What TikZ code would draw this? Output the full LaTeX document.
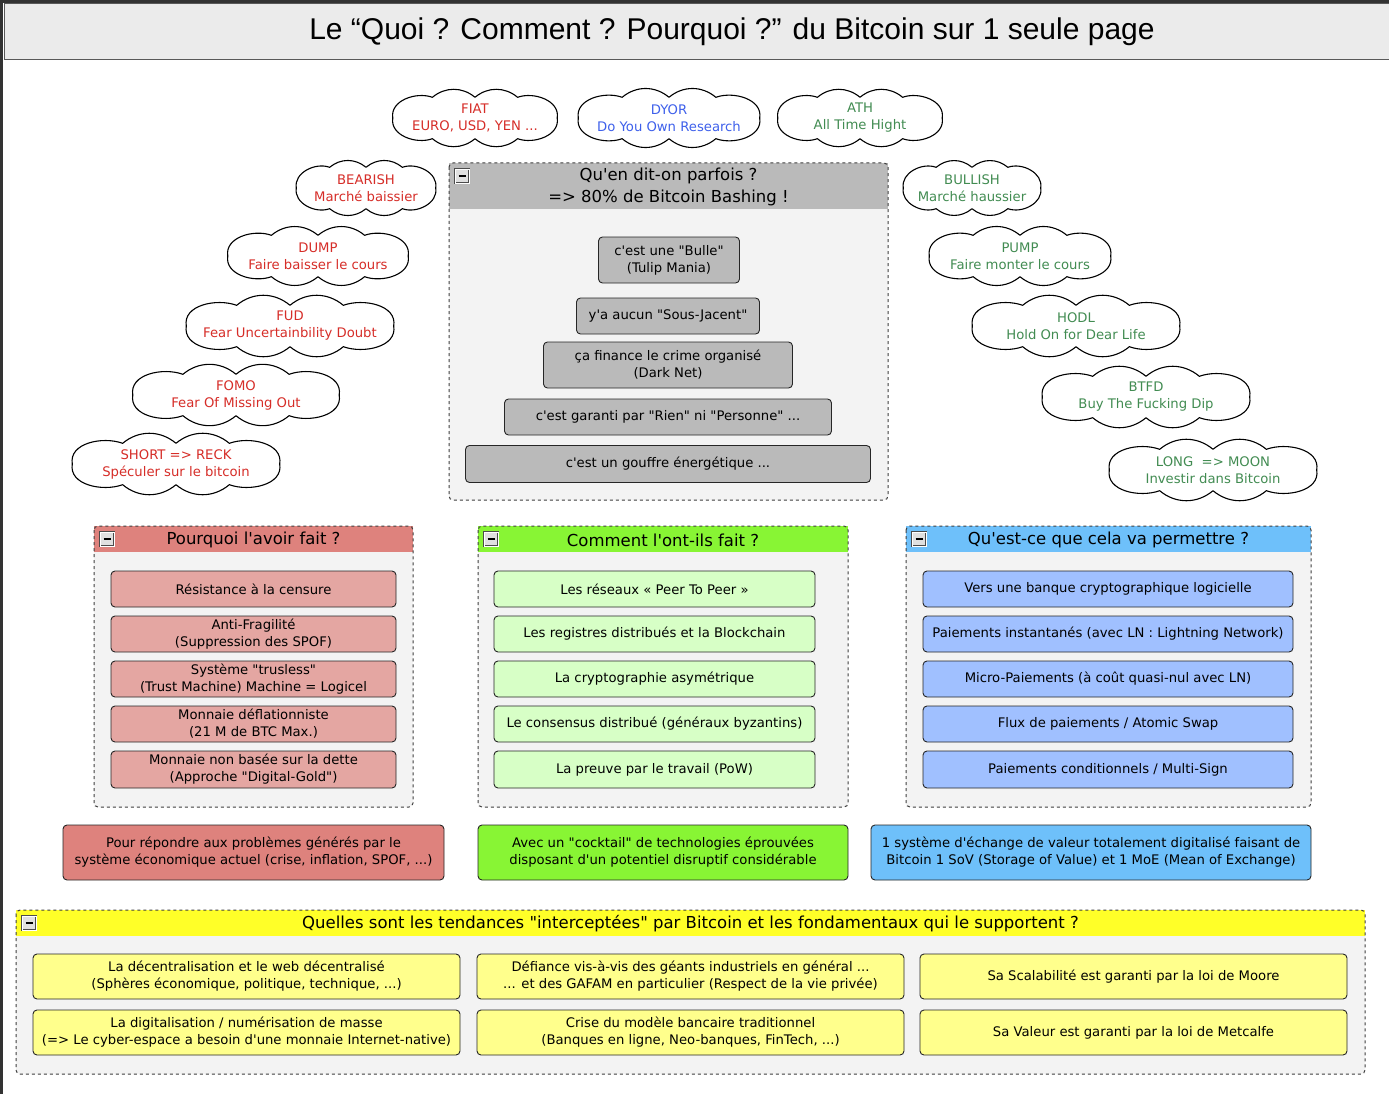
\documentclass[tikz,border=0pt]{standalone}
\usepackage{fontspec}
\setmainfont{DejaVu Sans}[Ligatures=TeXOff]
\newfontfamily\titlefont{Liberation Sans}
\usetikzlibrary{calc}
\definecolor{txtred}{RGB}{214,45,40}
\definecolor{txtblue}{RGB}{62,96,235}
\definecolor{txtgreen}{RGB}{66,140,82}
\definecolor{hdgray}{RGB}{186,186,186}
\definecolor{bodygray}{RGB}{243,243,243}
\definecolor{hdred}{RGB}{222,130,125}
\definecolor{itred}{RGB}{228,166,162}
\definecolor{hdgreen}{RGB}{136,245,52}
\definecolor{itgreen}{RGB}{215,255,198}
\definecolor{hdblue}{RGB}{110,192,250}
\definecolor{itblue}{RGB}{160,192,255}
\definecolor{hdyellow}{RGB}{255,255,40}
\definecolor{ityellow}{RGB}{255,255,140}
\tikzset{
  txt/.style={font=\fontsize{13.2}{17}\selectfont, align=center},
  bubble/.style={txt, inner sep=0pt, minimum height=53},
  cloudline/.style={draw=black, line width=1.1pt, line join=round},
  item/.style={txt, draw=black!85, rounded corners=4pt, line width=0.9pt, inner sep=0pt},
  grpedge/.style={draw=black!75, dashed, line width=1pt, rounded corners=4pt},
  grphead/.style={font=\fontsize{16.5}{22}\selectfont, align=center, inner sep=0pt},
  minus/.style={draw=black!70, fill=black!12, minimum size=14pt, inner sep=0pt,
    double=white, double distance=0.6pt}
}
% nuage autour d'un noeud
\newcommand{\nuage}[1]{%
  \draw[cloudline] ($(#1.west)+(3pt,0)$)
    to[out=100,in=160] ($(#1.north west)!.25!(#1.north east)+(0,-6pt)$)
    to[out=40,in=140] ($(#1.north west)!.5!(#1.north east)+(0,-6pt)$)
    to[out=40,in=140] ($(#1.north west)!.75!(#1.north east)+(0,-6pt)$)
    to[out=20,in=80] ($(#1.east)+(-3pt,0)$)
    to[out=-80,in=-20] ($(#1.south west)!.75!(#1.south east)+(0,6pt)$)
    to[out=-140,in=-40] ($(#1.south west)!.5!(#1.south east)+(0,6pt)$)
    to[out=-140,in=-40] ($(#1.south west)!.25!(#1.south east)+(0,6pt)$)
    to[out=-160,in=-100] ($(#1.west)+(3pt,0)$) -- cycle;
}
% groupe : nom, x1, y1, x2, y2, hauteur entete, couleur, titre
\newcommand{\groupe}[8]{%
  \coordinate (#1nw) at (#2,#3);
  \coordinate (#1se) at (#4,#5);
  \fill[bodygray, rounded corners=4pt] (#1nw) rectangle (#1se);
  \fill[#7] (#2,#3) rectangle (#4,#3+#6);
  \node[grphead] (#1head) at ({(#2+#4)/2},{#3+#6/2+1}) {#8};
  \node[minus] (#1min) at (#2+13,#3+13) {\rule{7pt}{2pt}};
  \draw[grpedge] (#1nw) rectangle (#1se);
}

\begin{document}
\begin{tikzpicture}[x=1pt,y=-1pt]
  \useasboundingbox (0,0) rectangle (1389,1094);
  \fill[white] (0,0) rectangle (1389,1094);
  % cadre et titre
  \fill[black!80] (0,0) rectangle (3,1094);
  \fill[black!80] (0,0) rectangle (1389,3);
  \draw[black!65, fill=black!8, line width=1pt] (4,3.5) rectangle (1392,60);
  \node[font=\titlefont\fontsize{30}{32}\selectfont] (titre) at (732,32)
    {Le “Quoi ? Comment ? Pourquoi ?” du Bitcoin sur 1 seule page};

  % nuages
  \node[bubble, text=txtred, minimum width=170] (fiat) at (475,118) {FIAT\\EURO, USD, YEN ...};
  \node[bubble, text=txtblue, minimum width=187] (dyor) at (669,118) {DYOR\\Do You Own Research};
  \node[bubble, text=txtgreen, minimum width=170] (ath) at (860,118) {ATH\\All Time Hight};
  \node[bubble, text=txtred, minimum width=145] (bearish) at (366,188) {BEARISH\\Marché baissier};
  \node[bubble, text=txtred, minimum width=186] (dump) at (318,256) {DUMP\\Faire baisser le cours};
  \node[bubble, text=txtred, minimum width=213] (fud) at (290,326) {FUD\\Fear Uncertainbility Doubt};
  \node[bubble, text=txtred, minimum width=212] (fomo) at (236,395) {FOMO\\Fear Of Missing Out};
  \node[bubble, text=txtred, minimum width=213] (short) at (176,464) {SHORT => RECK\\Spéculer sur le bitcoin};
  \node[bubble, text=txtgreen, minimum width=143] (bullish) at (972,188) {BULLISH\\Marché haussier};
  \node[bubble, text=txtgreen, minimum width=187] (pump) at (1020,256) {PUMP\\Faire monter le cours};
  \node[bubble, text=txtgreen, minimum width=213] (hodl) at (1076,326) {HODL\\Hold On for Dear Life};
  \node[bubble, text=txtgreen, minimum width=213] (btfd) at (1146,397) {BTFD\\Buy The Fucking Dip};
  \node[bubble, text=txtgreen, minimum width=213] (long) at (1213,470) {LONG\ \ => MOON\\Investir dans Bitcoin};
  \foreach \n in {fiat,dyor,ath,bearish,dump,fud,fomo,short,bullish,pump,hodl,btfd,long}
    {\nuage{\n}}

  % bashing
  \groupe{bash}{449}{163}{888}{500}{46}{hdgray}{Qu'en dit-on parfois ?\\=> 80\% de Bitcoin Bashing !}
  \node[item, fill=hdgray, minimum width=141, minimum height=46] (bulle) at (669,260) {c'est une "Bulle"\\(Tulip Mania)};
  \node[item, fill=hdgray, minimum width=183, minimum height=36] (sousjacent) at (668,316) {y'a aucun "Sous-Jacent"};
  \node[item, fill=hdgray, minimum width=249, minimum height=46] (crime) at (668,365) {ça finance le crime organisé\\(Dark Net)};
  \node[item, fill=hdgray, minimum width=327, minimum height=36] (garanti) at (668,417) {c'est garanti par "Rien" ni "Personne" ...};
  \node[item, fill=hdgray, minimum width=405, minimum height=37] (gouffre) at (668,464) {c'est un gouffre énergétique ...};

  % pourquoi
  \groupe{pourquoi}{94}{526}{413}{807}{26}{hdred}{Pourquoi l'avoir fait ?}
  \node[item, fill=itred, minimum width=285, minimum height=36] (censure) at (253.5,589) {Résistance à la censure};
  \node[item, fill=itred, minimum width=285, minimum height=36] (fragile) at (253.5,634) {Anti-Fragilité\\(Suppression des SPOF)};
  \node[item, fill=itred, minimum width=285, minimum height=36] (trustless) at (253.5,679) {Système "trusless"\\(Trust Machine) Machine = Logicel};
  \node[item, fill=itred, minimum width=285, minimum height=36] (deflation) at (253.5,724) {Monnaie déflationniste\\(21 M de BTC Max.)};
  \node[item, fill=itred, minimum width=285, minimum height=37] (dette) at (253.5,769.5) {Monnaie non basée sur la dette\\(Approche "Digital-Gold")};

  % comment
  \groupe{comment}{478}{526}{848}{807}{26}{hdgreen}{Comment l'ont-ils fait ?}
  \node[item, fill=itgreen, minimum width=321, minimum height=36] (p2p) at (654.5,589) {Les réseaux « Peer To Peer »};
  \node[item, fill=itgreen, minimum width=321, minimum height=36] (registres) at (654.5,634) {Les registres distribués et la Blockchain};
  \node[item, fill=itgreen, minimum width=321, minimum height=36] (crypto) at (654.5,679) {La cryptographie asymétrique};
  \node[item, fill=itgreen, minimum width=321, minimum height=36] (consensus) at (654.5,724) {Le consensus distribué (généraux byzantins)};
  \node[item, fill=itgreen, minimum width=321, minimum height=37] (pow) at (654.5,769.5) {La preuve par le travail (PoW)};

  % permettre
  \groupe{permet}{906}{526}{1311}{807}{26}{hdblue}{Qu'est-ce que cela va permettre ?}
  \node[item, fill=itblue, minimum width=370, minimum height=36] (banque) at (1108,589) {Vers une banque cryptographique logicielle};
  \node[item, fill=itblue, minimum width=370, minimum height=36] (instant) at (1108,634) {Paiements instantanés (avec LN : Lightning Network)};
  \node[item, fill=itblue, minimum width=370, minimum height=36] (micro) at (1108,679) {Micro-Paiements (à coût quasi-nul avec LN)};
  \node[item, fill=itblue, minimum width=370, minimum height=36] (flux) at (1108,724) {Flux de paiements / Atomic Swap};
  \node[item, fill=itblue, minimum width=370, minimum height=37] (multisig) at (1108,769.5) {Paiements conditionnels / Multi-Sign};

  % syntheses
  \node[item, fill=hdred, minimum width=381, minimum height=55] (synpourquoi) at (253.5,852.5) {Pour répondre aux problèmes générés par le\\système économique actuel (crise, inflation, SPOF, ...)};
  \node[item, fill=hdgreen, minimum width=370, minimum height=55] (syncomment) at (663,852.5) {Avec un "cocktail" de technologies éprouvées\\disposant d'un potentiel disruptif considérable};
  \node[item, fill=hdblue, minimum width=440, minimum height=55] (synpermet) at (1091,852.5) {1 système d'échange de valeur totalement digitalisé faisant de\\Bitcoin 1 SoV (Storage of Value) et 1 MoE (Mean of Exchange)};

  % tendances
  \groupe{tendance}{16}{910}{1365}{1074}{26}{hdyellow}{Quelles sont les tendances "interceptées" par Bitcoin et les fondamentaux qui le supportent ?}
  \node[item, fill=ityellow, minimum width=427, minimum height=45] (decentral) at (246.5,976.5) {La décentralisation et le web décentralisé\\(Sphères économique, politique, technique, ...)};
  \node[item, fill=ityellow, minimum width=427, minimum height=45] (digital) at (246.5,1032.5) {La digitalisation / numérisation de masse\\(=> Le cyber-espace a besoin d'une monnaie Internet-native)};
  \node[item, fill=ityellow, minimum width=427, minimum height=45] (gafam) at (690.5,976.5) {Défiance vis-à-vis des géants industriels en général ...\\... et des GAFAM en particulier (Respect de la vie privée)};
  \node[item, fill=ityellow, minimum width=427, minimum height=45] (bancaire) at (690.5,1032.5) {Crise du modèle bancaire traditionnel\\(Banques en ligne, Neo-banques, FinTech, ...)};
  \node[item, fill=ityellow, minimum width=427, minimum height=45] (moore) at (1133.5,976.5) {Sa Scalabilité est garanti par la loi de Moore};
  \node[item, fill=ityellow, minimum width=427, minimum height=45] (metcalfe) at (1133.5,1032.5) {Sa Valeur est garanti par la loi de Metcalfe};
\end{tikzpicture}
\end{document}
